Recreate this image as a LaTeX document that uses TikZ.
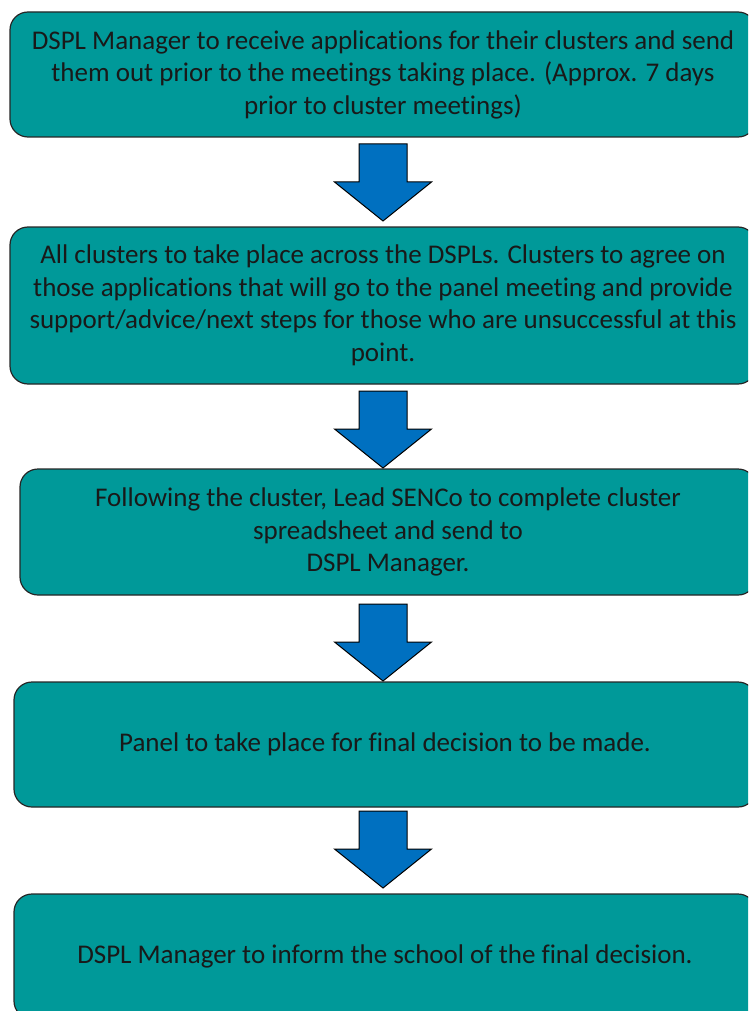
\documentclass[tikz,border=0pt]{standalone}
\usepackage{fontspec}
\setmainfont[Ligatures={NoCommon}]{Carlito}
\definecolor{stepteal}{HTML}{009999}
\definecolor{arrowblue}{HTML}{0070C0}
\tikzset{stepbox/.style = {rectangle, rounded corners=18pt, draw=black!85, line width=1.2pt, fill=stepteal, align=center, font=\fontsize{27}{32.5}\selectfont, text=black!90, inner sep=0pt}}
\tikzset{downarrow/.pic = {\draw [draw=black, line width=1pt, fill=arrowblue, line join=miter] (-24,0) -- (24,0) -- (24,38) -- (48.5,38) -- (0,77) -- (-48.5,38) -- (-24,38) -- cycle;}}

\begin{document}
\begin{tikzpicture}[x=1pt, y=-1pt]
\useasboundingbox (0,0) rectangle (748,1011);
\clip (0,0) rectangle (748,1011);
% steps
\node [stepbox, minimum width=746pt, minimum height=125pt] (S1) at (383, 74.5) {DSPL Manager to receive applications for their clusters and send\\ them out prior to the meetings taking place. (Approx. 7 days\\ prior to cluster meetings)};
\node [stepbox, minimum width=746pt, minimum height=157pt] (S2) at (383, 305.5) {All clusters to take place across the DSPLs. Clusters to agree on\\ those applications that will go to the panel meeting and provide\\ support/advice/next steps for those who are unsuccessful at this\\ point.};
\node [stepbox, minimum width=736pt, minimum height=126pt] (S3) at (388, 532) {Following the cluster, Lead SENCo to complete cluster\\ spreadsheet and send to\\ DSPL Manager.};
\node [stepbox, minimum width=742pt, minimum height=125pt] (S4) at (385, 744.5) {Panel to take place for final decision to be made.};
\node [stepbox, minimum width=742pt, minimum height=125pt] (S5) at (385, 956.5) {DSPL Manager to inform the school of the final decision.};
% arrows
\pic (A1) at (383, 144) {downarrow};
\pic (A2) at (383, 391) {downarrow};
\pic (A3) at (383, 604) {downarrow};
\pic (A4) at (383, 811) {downarrow};
\end{tikzpicture}
\end{document}
